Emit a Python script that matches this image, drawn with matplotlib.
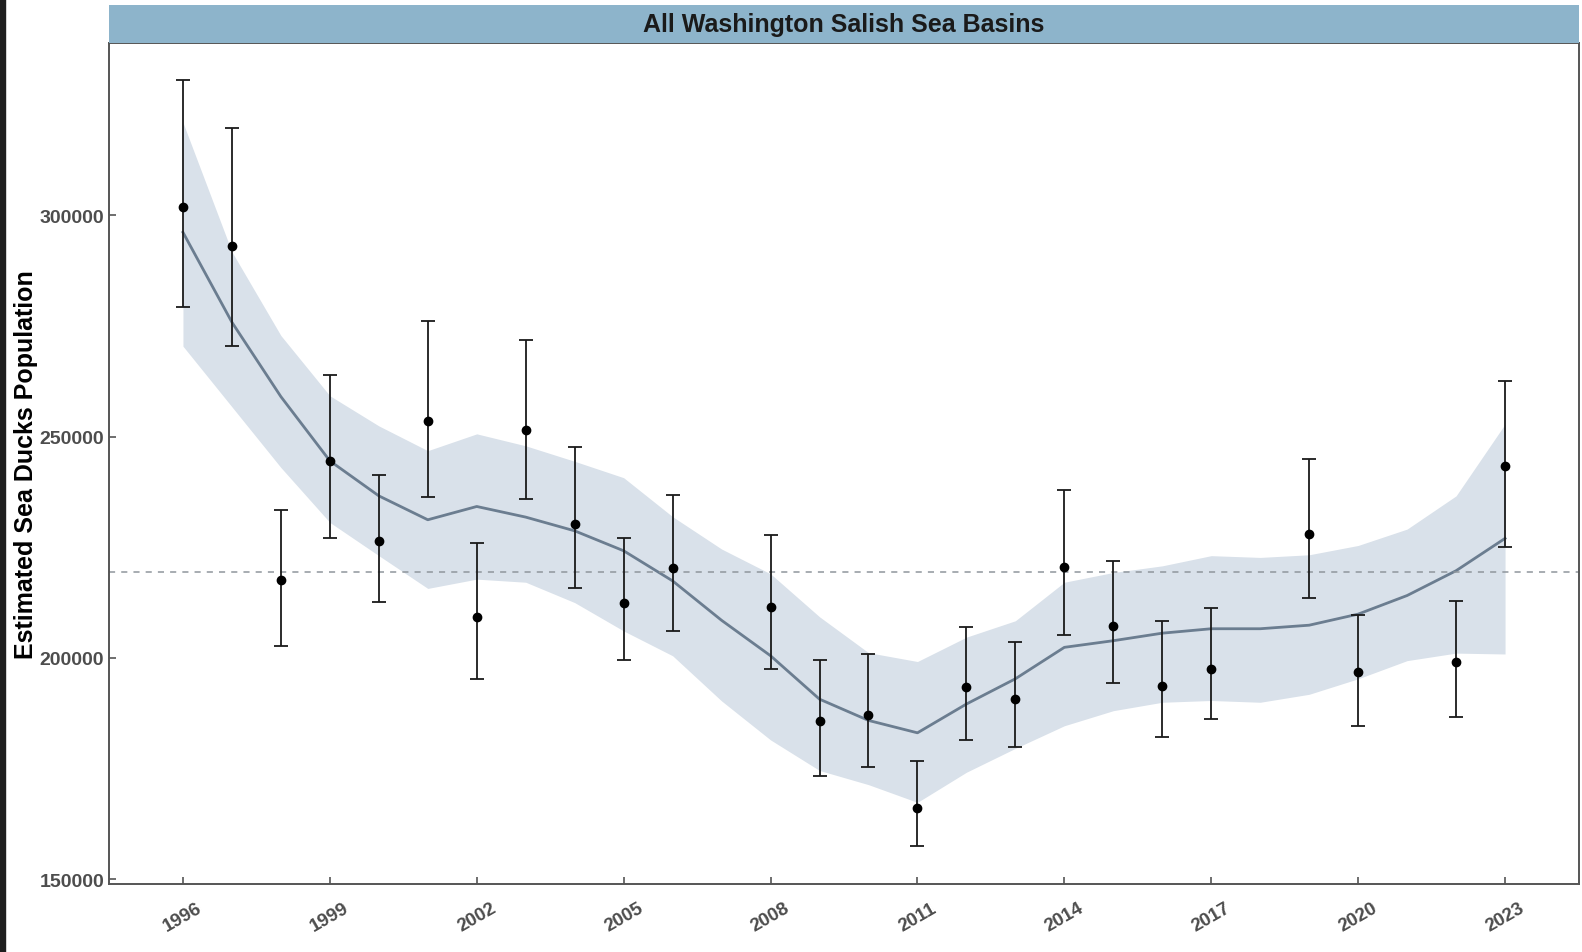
# Sea duck population estimates, all Washington Salish Sea basins

import matplotlib
matplotlib.use('Agg')
import matplotlib.pyplot as plt
from matplotlib.patches import Rectangle

plt.rcParams['font.family'] = ['Liberation Sans', 'DejaVu Sans']

# survey estimates with 95% intervals
years = [1996, 1997, 1998, 1999, 2000, 2001, 2002, 2003, 2004, 2005, 2006,
         2008, 2009, 2010, 2011, 2012, 2013, 2014, 2015, 2016, 2017,
         2019, 2020, 2022, 2023]
estimate = [301800, 293100, 217700, 244500, 226300, 253600, 209200, 251400,
            230300, 212300, 220400, 211400, 185800, 187200, 166200, 193500,
            190700, 220500, 207300, 193700, 197500, 228100, 196800, 199000,
            243300]
lower = [279200, 270400, 202700, 227100, 212600, 236300, 195200, 235900,
         215700, 199600, 206000, 197600, 173300, 175300, 157600, 181500,
         179800, 205200, 194400, 182200, 186200, 213600, 184700, 186600,
         225100]
upper = [330400, 319700, 233300, 263900, 241200, 276100, 226000, 271800,
         247700, 227000, 236700, 227800, 199500, 200800, 176700, 206900,
         203500, 238000, 221800, 208400, 211200, 245000, 209800, 212800,
         262500]

# smoothed trend and its confidence band
trend_years = list(range(1996, 2024))
trend = [296100, 275800, 259000, 244500, 236600, 231200, 234200, 231800,
         228700, 224200, 217400, 208500, 200500, 190700, 185900, 183100,
         189600, 195300, 202400, 203900, 205600, 206600, 206600, 207400,
         209900, 214100, 219700, 227000]
trend_lo = [270400, 256700, 243000, 230600, 223100, 215700, 217800, 217100,
            212500, 206100, 200500, 190300, 181500, 174600, 171400, 167400,
            174200, 179600, 184700, 188100, 190000, 190400, 190000, 191800,
            195300, 199400, 201100, 200900]
trend_hi = [320900, 291700, 272800, 259200, 252400, 246800, 250600, 247900,
            244400, 240700, 231900, 224600, 219000, 209300, 201200, 199200,
            204700, 208400, 217100, 219300, 220800, 223100, 222700, 223300,
            225400, 229100, 236600, 252800]

ref_level = 219300

fig = plt.figure(figsize=(15.82, 9.53), dpi=100)
ax = fig.add_axes([0.0686, 0.0714, 0.9295, 0.8827])

ax.fill_between(trend_years, trend_lo, trend_hi, color='#d9e1ea', lw=0, zorder=1)
ax.plot(trend_years, trend, color='#6b7d90', lw=2.0, zorder=2)
ax.axhline(ref_level, color='#8f969c', lw=1.1, ls=(0, (4, 4)), zorder=2)

yerr = [[e - l for e, l in zip(estimate, lower)],
        [u - e for e, u in zip(estimate, upper)]]
ax.errorbar(years, estimate, yerr=yerr, fmt='o', color='black', ecolor='#1a1a1a',
            ms=6, elinewidth=1.3, capsize=5, capthick=1.3, zorder=3)

ax.set_xlim(1994.48, 2024.51)
ax.set_ylim(148980, 338900)
ax.set_xticks(range(1996, 2024, 3))
ax.set_yticks([150000, 200000, 250000, 300000])
ax.set_yticklabels(['150000', '200000', '250000', '300000'])
ax.tick_params(direction='in', length=5, width=1.2, color='#555555',
               labelcolor='#4d4d4d')
ax.tick_params(axis='x', labelsize=13.5, pad=11)
ax.tick_params(axis='y', labelsize=14, pad=3)
for lab in ax.get_xticklabels():
    lab.set_rotation(30)
    lab.set_fontweight('bold')
    lab.set_ha('center')
for lab in ax.get_yticklabels():
    lab.set_fontweight('bold')

for s in ax.spines.values():
    s.set_color('#555555')
    s.set_linewidth(1.4)

ax.set_ylabel('Estimated Sea Ducks Population', fontsize=18, fontweight='bold',
              color='black', labelpad=1)

# facet strip
strip = fig.add_axes([0.0686, 0.9541, 0.9295, 0.0396])
strip.set_facecolor('#8db4cb')
strip.set_xticks([])
strip.set_yticks([])
for s in strip.spines.values():
    s.set_visible(False)
strip.text(0.5, 0.5, 'All Washington Salish Sea Basins', ha='center', va='center',
           fontsize=18, fontweight='bold', color='#1a1a1a', transform=strip.transAxes)

# dark edge at the left of the screenshot
fig.patches.append(Rectangle((0, 0), 5 / 1582, 1, transform=fig.transFigure,
                             color='#1e1e1e', zorder=0))

fig.savefig('out.png', dpi=100)
